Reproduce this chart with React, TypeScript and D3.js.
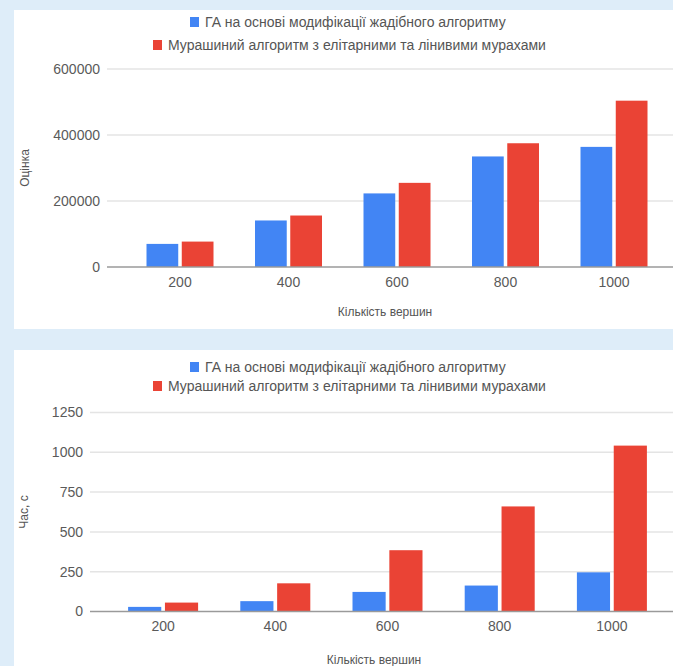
import React from "react";
import * as d3 from "d3";

const categories = ["200", "400", "600", "800", "1000"];
const seriesNames = [
  "ГА на основі модифікації жадібного алгоритму",
  "Мурашиний алгоритм з елітарними та лінивими мурахами",
];
const scoreGA = [70000, 141000, 223000, 335000, 364000];
const scoreAnt = [77000, 156000, 255000, 375000, 504000];
const timeGA = [29, 65, 123, 163, 246];
const timeAnt = [56, 177, 385, 660, 1042];
const scoreTicks = [0, 200000, 400000, 600000];
const timeTicks = [0, 250, 500, 750, 1000, 1250];
const xTitle = "Кількість вершин";
const scoreTitle = "Оцінка";
const timeTitle = "Час, с";

const COLORS = ["#4285f4", "#ea4335"];
const FONT = "'Liberation Sans', Arial, sans-serif";

type ChartProps = {
  a: number[];
  b: number[];
  ticks: number[];
  yTitle: string;
  plotLeft: number;
  plotTop: number;
  plotBottom: number;
  bandLeft: number;
  bandRight: number;
  groupW: number;
  legendY1: number;
  legendY2: number;
  xLabelY: number;
  xTitleY: number;
  xTitleX: number;
  yTitleX: number;
};

function Chart(p: ChartProps) {
  const y = d3
    .scaleLinear()
    .domain([0, p.ticks[p.ticks.length - 1]])
    .range([p.plotBottom, p.plotTop]);
  const x = d3.scaleBand().domain(categories).range([p.bandLeft, p.bandRight]);
  const inner = d3
    .scaleBand()
    .domain(["0", "1"])
    .range([0, p.groupW])
    .paddingInner(0.1);
  const series = [p.a, p.b];
  const right = 673;
  return (
    <g>
      {[p.legendY1, p.legendY2].map((ly, i) => (
        <g key={"lg" + i}>
          <rect
            x={i === 0 ? 190 : 153}
            y={ly - 5}
            width={9}
            height={10}
            fill={COLORS[i]}
          />
          <text
            x={i === 0 ? 205 : 168}
            y={ly}
            dy="0.35em"
            fontSize={14}
            fill="#555"
            fontFamily={FONT}
          >
            {seriesNames[i]}
          </text>
        </g>
      ))}
      {p.ticks.map((t) => (
        <g key={"t" + t}>
          {t !== 0 && (
            <line
              x1={p.plotLeft}
              x2={right}
              y1={y(t)}
              y2={y(t)}
              stroke="#e4e4e4"
              strokeWidth={1.5}
            />
          )}
          <text
            x={p.plotLeft - 7}
            y={y(t)}
            dy="0.35em"
            textAnchor="end"
            fontSize={14}
            fill="#5a5a5a"
            fontFamily={FONT}
          >
            {t}
          </text>
        </g>
      ))}
      {series.map((s, si) =>
        s.map((v, ci) => {
          const cx = (x(categories[ci]) as number) + x.bandwidth() / 2;
          const gx = cx - p.groupW / 2 + (inner(String(si)) as number);
          return (
            <rect
              key={si + "-" + ci}
              x={gx}
              y={y(v)}
              width={inner.bandwidth()}
              height={y(0) - y(v)}
              fill={COLORS[si]}
            />
          );
        })
      )}
      <line
        x1={p.plotLeft}
        x2={right}
        y1={y(0)}
        y2={y(0)}
        stroke="#9a9a9a"
        strokeWidth={1.5}
      />
      {categories.map((c) => (
        <text
          key={"x" + c}
          x={(x(c) as number) + x.bandwidth() / 2}
          y={p.xLabelY}
          dy="0.35em"
          textAnchor="middle"
          fontSize={14}
          fill="#5a5a5a"
          fontFamily={FONT}
        >
          {c}
        </text>
      ))}
      <text
        x={p.xTitleX}
        y={p.xTitleY}
        dy="0.35em"
        textAnchor="middle"
        fontSize={12}
        fill="#555"
        fontFamily={FONT}
      >
        {xTitle}
      </text>
      <text
        transform={`translate(${p.yTitleX},${(p.plotTop + p.plotBottom) / 2}) rotate(-90)`}
        dy="0.35em"
        textAnchor="middle"
        fontSize={12}
        fill="#555"
        fontFamily={FONT}
      >
        {p.yTitle}
      </text>
    </g>
  );
}

export default function App() {
  return (
    <svg
      width={673}
      height={666}
      style={{ position: "absolute", left: 0, top: 0, display: "block" }}
    >
      <rect x={0} y={0} width={673} height={666} fill="#deedf9" />
      <rect x={14} y={10} width={659} height={319} fill="#ffffff" />
      <rect x={14} y={350} width={659} height={316} fill="#ffffff" />
      <Chart
        a={scoreGA}
        b={scoreAnt}
        ticks={scoreTicks}
        yTitle={scoreTitle}
        plotLeft={107}
        plotTop={69}
        plotBottom={267}
        bandLeft={125.75}
        bandRight={668.25}
        groupW={67}
        legendY1={22}
        legendY2={45}
        xLabelY={282}
        xTitleY={312}
        xTitleX={385}
        yTitleX={25}
      />
      <Chart
        a={timeGA}
        b={timeAnt}
        ticks={timeTicks}
        yTitle={timeTitle}
        plotLeft={90}
        plotTop={412.5}
        plotBottom={611.5}
        bandLeft={107}
        bandRight={668}
        groupW={70}
        legendY1={367}
        legendY2={386}
        xLabelY={626}
        xTitleY={660}
        xTitleX={374}
        yTitleX={24}
      />
    </svg>
  );
}
